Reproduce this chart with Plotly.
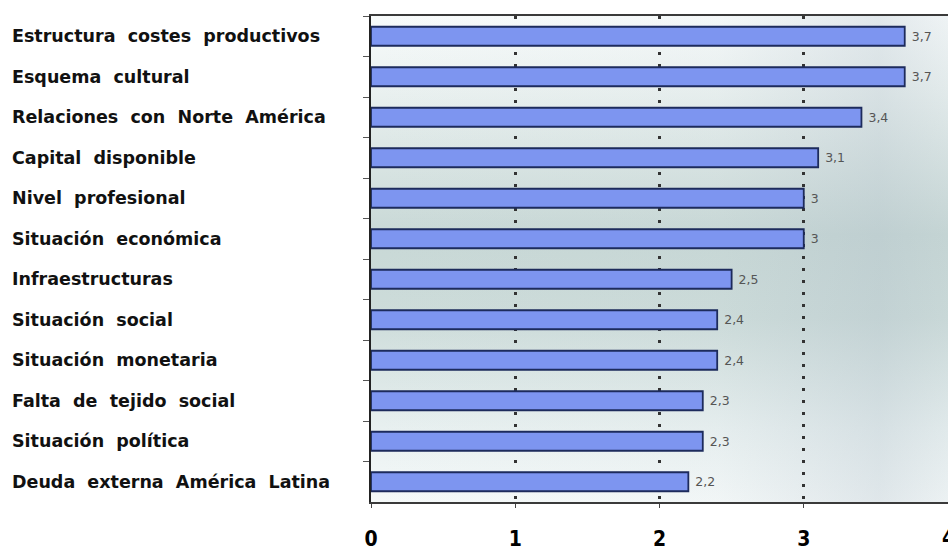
import base64
import plotly.graph_objects as go

# Factores, de arriba abajo, con su valoración media
factores = [
    "Estructura costes productivos",
    "Esquema cultural",
    "Relaciones con Norte América",
    "Capital disponible",
    "Nivel profesional",
    "Situación económica",
    "Infraestructuras",
    "Situación social",
    "Situación monetaria",
    "Falta de tejido social",
    "Situación política",
    "Deuda externa América Latina",
]
valoracion = [3.7, 3.7, 3.4, 3.1, 3.0, 3.0, 2.5, 2.4, 2.4, 2.3, 2.3, 2.2]
ticks_x = [0, 1, 2, 3, 4]

W, H = 948, 550
M_L, M_R, M_T, M_B = 371, 0, 16, 48
plot_w = W - M_L - M_R

tick_font = dict(family="DejaVu Sans Condensed, DejaVu Sans, sans-serif",
                 size=21, color="#000000", weight="bold")

# Fondo degradado del área del gráfico (SVG incrustado)
svg_bg = """<svg xmlns='http://www.w3.org/2000/svg' width='577' height='486' viewBox='0 0 100 100' preserveAspectRatio='none'>
<defs>
<linearGradient id='v' x1='0' y1='0' x2='0' y2='1'>
<stop offset='0' stop-color='#f8fbfb'/>
<stop offset='0.15' stop-color='#eaf1f0'/>
<stop offset='0.45' stop-color='#c8d8d6'/>
<stop offset='0.62' stop-color='#cddcda'/>
<stop offset='0.85' stop-color='#e8f0f0'/>
<stop offset='1' stop-color='#f5f9f9'/>
</linearGradient>
<linearGradient id='h' x1='0' y1='0' x2='1' y2='0'>
<stop offset='0' stop-color='#a8b8c4' stop-opacity='0'/>
<stop offset='0.6' stop-color='#a8b8c4' stop-opacity='0.05'/>
<stop offset='0.88' stop-color='#a8b8c4' stop-opacity='0.28'/>
<stop offset='1' stop-color='#a8b8c4' stop-opacity='0.12'/>
</linearGradient>
</defs>
<rect width='100' height='100' fill='url(#v)'/>
<rect width='100' height='100' fill='url(#h)'/>
</svg>"""
bg_uri = "data:image/svg+xml;base64," + base64.b64encode(svg_bg.encode()).decode()

fig = go.Figure(
    go.Bar(
        x=valoracion,
        y=factores,
        orientation="h",
        marker=dict(color="#7d95f0", line=dict(color="#1d2b5c", width=1.8)),
        text=valoracion,
        texttemplate="\u00a0%{x}",
        textposition="outside",
        textfont=dict(family="DejaVu Sans, sans-serif", size=12.5, color="#555555"),
        cliponaxis=False,
        hoverinfo="skip",
    )
)

# Etiquetas de categoría alineadas a la izquierda
for f in factores:
    fig.add_annotation(
        x=(10 - M_L) / plot_w,
        xref="paper",
        y=f,
        yref="y",
        text=f.replace(" ", "\u00a0 "),
        showarrow=False,
        xanchor="left",
        yanchor="middle",
        font=dict(family="DejaVu Sans, sans-serif", size=17.5, color="#111111", weight="bold"),
    )

# El último valor del eje cae justo en el borde derecho: se escribe aparte
fig.add_annotation(
    x=ticks_x[-1], xref="x",
    y=0, yref="paper",
    yanchor="middle", yshift=-36,
    text=str(ticks_x[-1]),
    showarrow=False,
    font=tick_font,
)

fig.add_layout_image(
    source=bg_uri,
    xref="paper", yref="paper",
    x=0, y=1, sizex=1, sizey=1,
    xanchor="left", yanchor="top",
    sizing="stretch",
    layer="below",
)

fig.update_layout(
    width=W,
    height=H,
    margin=dict(l=M_L, r=M_R, t=M_T, b=M_B, autoexpand=False),
    paper_bgcolor="white",
    plot_bgcolor="rgba(0,0,0,0)",
    separators=",.",
    bargap=0.53,
    showlegend=False,
    xaxis=dict(
        range=[0, 4],
        tickvals=ticks_x[:-1],
        ticktext=[str(t) for t in ticks_x[:-1]],
        showgrid=True,
        gridcolor="#333333",
        gridwidth=2.5,
        griddash="3px,9px",
        zeroline=False,
        showline=True,
        linecolor="#3a3a3a",
        linewidth=2,
        mirror=True,
        ticks="outside",
        ticklen=4,
        tickcolor="#444444",
        ticklabelstandoff=13,
        tickfont=tick_font,
        fixedrange=True,
    ),
    yaxis=dict(
        type="category",
        categoryorder="array",
        categoryarray=factores,
        autorange="reversed",
        showticklabels=False,
        showgrid=False,
        ticks="outside",
        tickson="boundaries",
        ticklen=6,
        tickcolor="#555555",
        showline=True,
        linecolor="#222222",
        linewidth=1.5,
        fixedrange=True,
    ),
)

fig.write_html("out.html")
